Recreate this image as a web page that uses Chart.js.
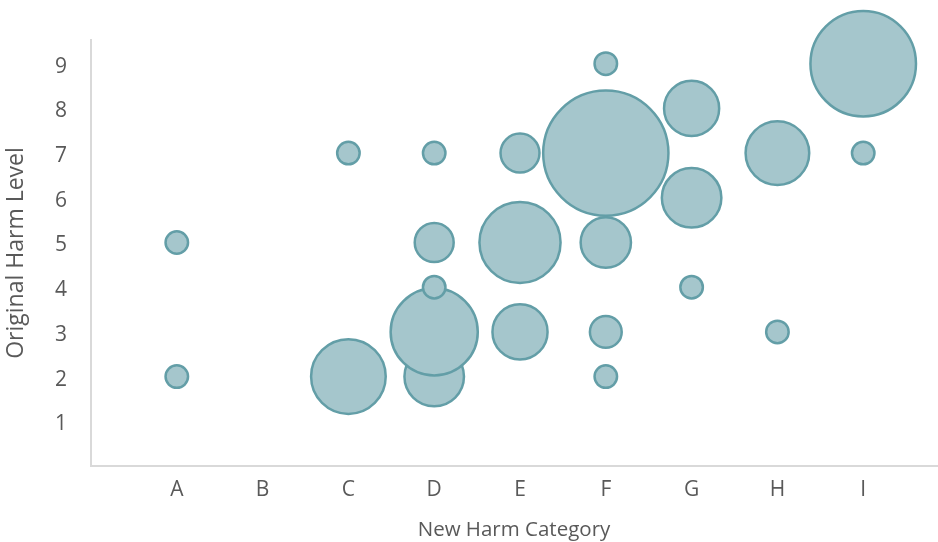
<!DOCTYPE html>
<html>
<head>
<meta charset="utf-8">
<script src="https://cdn.jsdelivr.net/npm/chart.js@4"></script>
<style>
  html, body { margin: 0; padding: 0; background: #fff; }
  #wrap { width: 938px; height: 542px; position: relative; }
</style>
</head>
<body>
<div id="wrap"><canvas id="bubbleChart"></canvas></div>
<script>
// Category labels for the x axis (positions 1..9)
const categories = ['A', 'B', 'C', 'D', 'E', 'F', 'G', 'H', 'I'];
const yTickLabels = [1, 2, 3, 4, 5, 6, 7, 8, 9];

// Bubble data: category position, original harm level, count
const bubbleX     = [1, 1, 3, 3, 4, 4, 4, 4, 4, 5, 5, 5, 6, 6, 6, 6, 6, 7, 7, 7, 8, 8, 9, 9];
const bubbleY     = [5, 2, 7, 2, 7, 5, 2, 3, 4, 7, 5, 3, 9, 7, 5, 3, 2, 8, 6, 4, 7, 3, 9, 7];
const bubbleCount = [1, 1, 1, 11, 1, 3, 7, 15, 1, 3, 13, 6, 1, 31, 5, 2, 1, 6, 7, 1, 8, 1, 22, 1];

const textColor = '#595959';
const axisColor = '#d9d9d9';
const fontFamily = "'Open Sans', 'Noto Sans', sans-serif";

// bubble area follows the count
const points = bubbleX.map((x, i) => ({
    x: x,
    y: bubbleY[i],
    r: 11.25 * Math.sqrt(bubbleCount[i])
}));

document.addEventListener('DOMContentLoaded', function() {
    const ctx = document.getElementById('bubbleChart').getContext('2d');
    new Chart(ctx, {
        type: 'bubble',
        data: {
            datasets: [{
                label: 'Count',
                data: points,
                backgroundColor: 'rgb(165, 198, 204)',
                borderColor: 'rgb(99, 158, 167)',
                borderWidth: 2.5,
                hoverBorderWidth: 2.5,
                clip: false
            }]
        },
        options: {
            responsive: true,
            maintainAspectRatio: false,
            animation: false,
            layout: {
                autoPadding: false,
                padding: { top: 40, right: 1, left: 0, bottom: 0 }
            },
            plugins: {
                legend: { display: false },
                tooltip: { enabled: false }
            },
            scales: {
                x: {
                    type: 'linear',
                    min: 0,
                    max: 9.86,
                    grid: { display: false, drawTicks: false },
                    border: { display: true, color: axisColor, width: 2 },
                    afterBuildTicks: function(scale) {
                        scale.ticks = categories.map((c, i) => ({ value: i + 1 }));
                    },
                    ticks: {
                        autoSkip: false,
                        maxRotation: 0,
                        padding: 11,
                        color: textColor,
                        font: { family: fontFamily, size: 21 },
                        callback: function(value) {
                            return categories[value - 1];
                        }
                    },
                    title: {
                        display: true,
                        text: 'New Harm Category',
                        color: textColor,
                        font: { family: fontFamily, size: 20.5 },
                        padding: { top: 8, bottom: 0 }
                    },
                    afterFit: function(scale) { scale.height = 76; }
                },
                y: {
                    type: 'linear',
                    min: 0,
                    max: 9.53,
                    grid: { display: false, drawTicks: false },
                    border: { display: true, color: axisColor, width: 2 },
                    afterBuildTicks: function(scale) {
                        scale.ticks = yTickLabels.map(v => ({ value: v }));
                    },
                    ticks: {
                        padding: 24,
                        labelOffset: 3,
                        color: textColor,
                        font: { family: fontFamily, size: 21 }
                    },
                    title: {
                        display: true,
                        text: 'Original Harm Level',
                        color: textColor,
                        font: { family: fontFamily, size: 23 },
                        padding: { top: 3, bottom: 0 }
                    },
                    afterFit: function(scale) { scale.width = 91; }
                }
            }
        }
    });
});
</script>
</body>
</html>
